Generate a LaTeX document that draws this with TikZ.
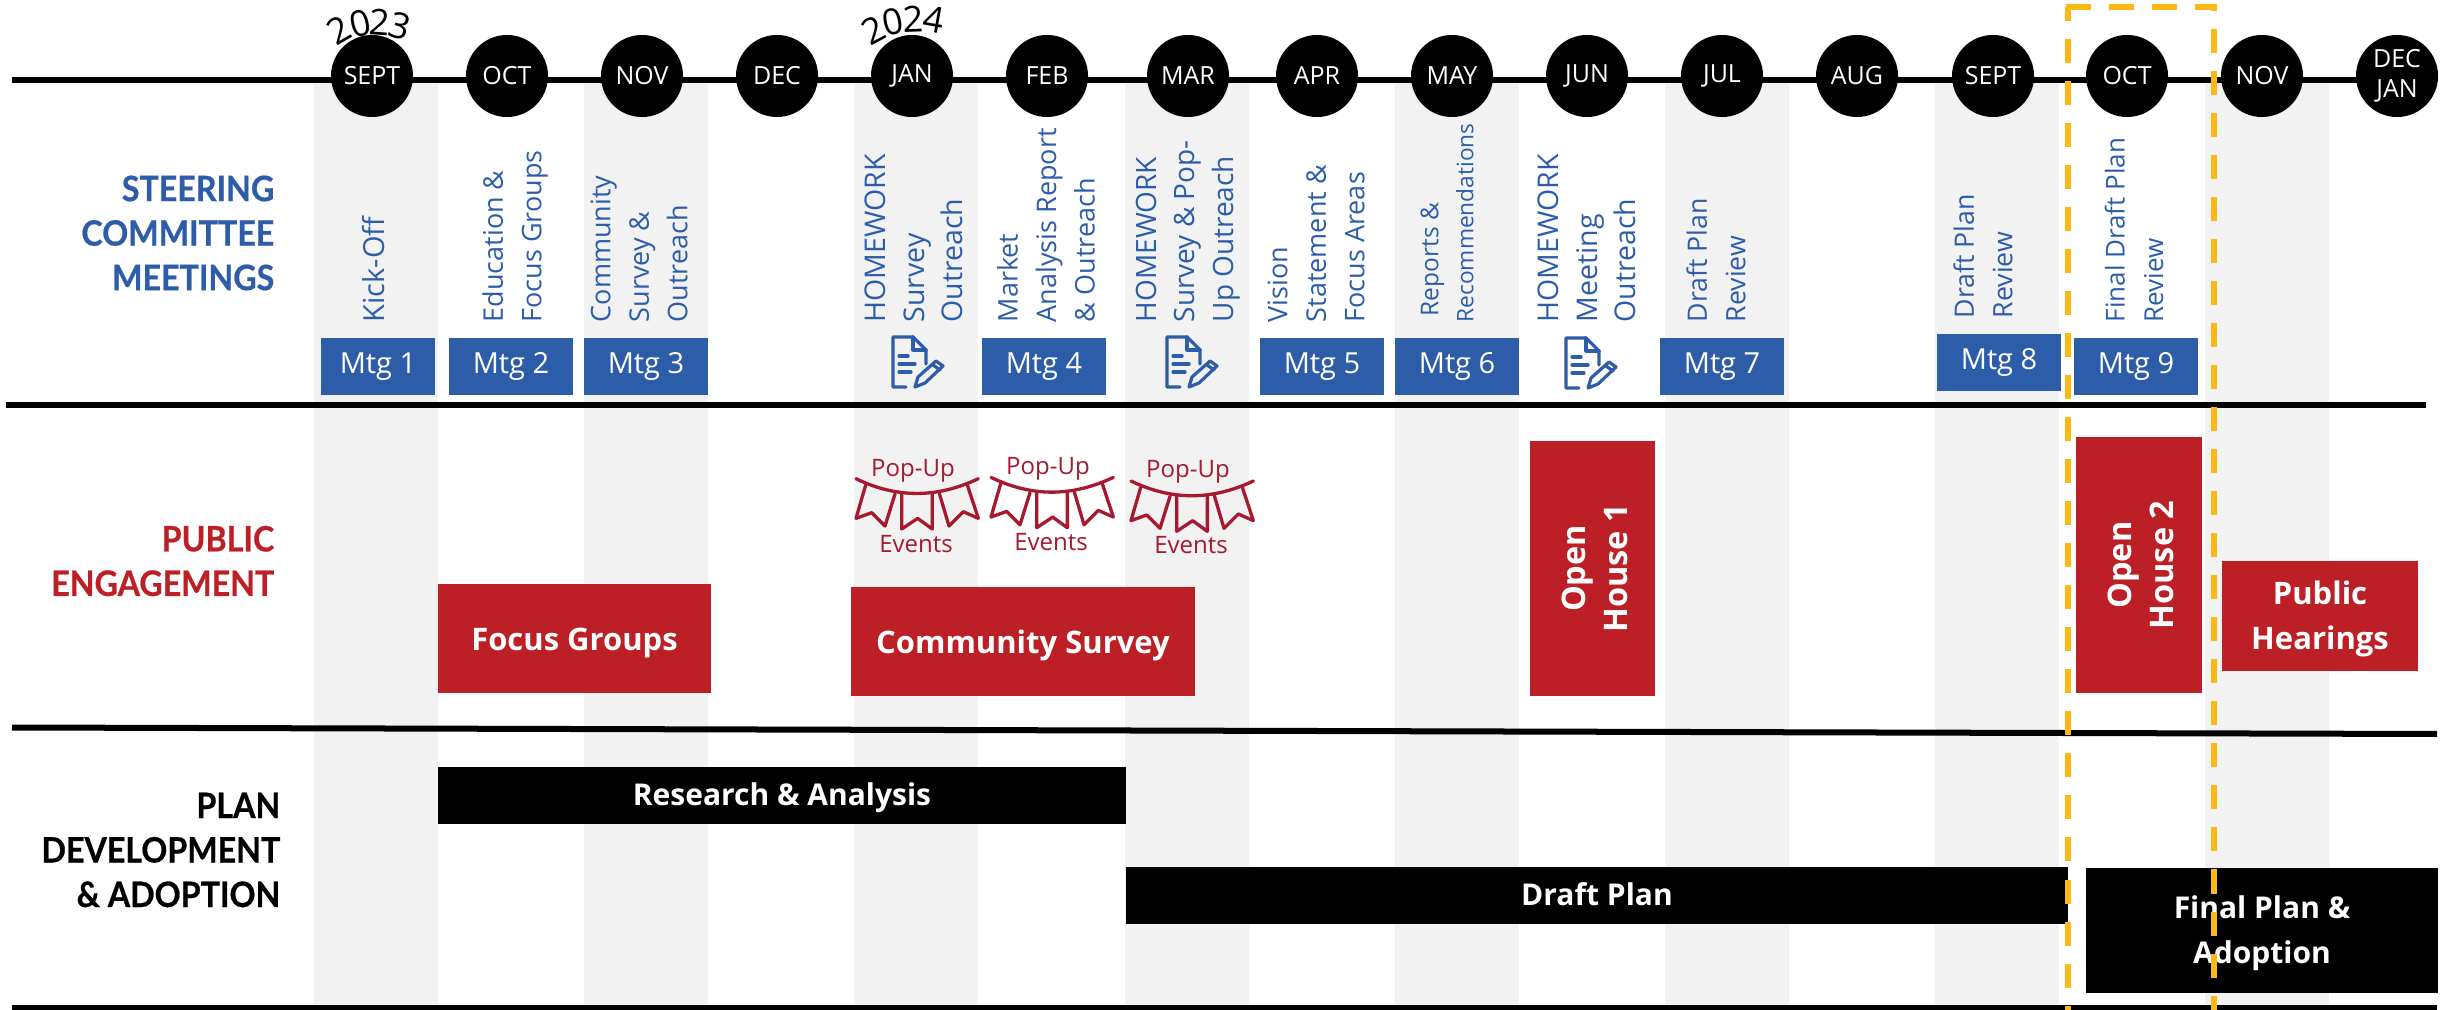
\documentclass[tikz,border=0pt]{standalone}
\usepackage{fontspec}
\setmainfont{Open Sans}
\newfontfamily\headfont[FakeStretch=0.92,BoldFeatures={FakeBold=0.6}]{Lato}
\newdimen\pxu \pxu=0.01cm
\newcommand{\fsz}[2]{\fontsize{#1\pxu}{#2\pxu}\selectfont}
\definecolor{bandgrey}{HTML}{F2F2F2}
\definecolor{steelblue}{HTML}{2D5DA9}
\definecolor{boxred}{HTML}{BC2026}
\definecolor{popred}{HTML}{A6192E}
\definecolor{amber}{HTML}{FDB913}
\tikzset{
  band/.style={fill=bandgrey,draw=none},
  rule/.style={line width=0.06cm,black},
  month/.style={circle,fill=black,text=white,minimum size=0.82cm,inner sep=0pt,font=\fsz{25}{33},align=center},
  mtg/.style={fill=steelblue,text=white,inner sep=0pt,font=\fsz{29}{33}},
  agenda/.style={rotate=90,anchor=west,inner sep=0pt,text=steelblue,align=left,font=\fsz{27}{38.5}},
  agendabig/.style={agenda,font=\fsz{28.5}{38.5}},
  agendareview/.style={agenda,font=\fsz{26.7}{38.5}},
  agendafinal/.style={agenda,font=\fsz{26}{38.5}},
  agendasmall/.style={agenda,font=\fsz{22.7}{35}},
  section/.style={anchor=east,inner sep=0pt,align=right,font=\headfont\bfseries\fsz{35}{44.5}},
  redbox/.style={fill=boxred,text=white,inner sep=0pt,align=center,font=\bfseries\fsz{31}{45}},
  redline/.style={redbox,text height=0.24cm,text depth=0pt},
  blackbox/.style={fill=black,text=white,inner sep=0pt,align=center,font=\bfseries\fsz{30}{44.5}},
  blackline/.style={blackbox,text height=0.20cm,text depth=0pt},
  boxtext/.style={inner sep=0pt,text=white,align=center,font=\bfseries\fsz{31}{45}},
  opentext/.style={boxtext,rotate=90,font=\bfseries\fsz{32.5}{42.5}},
  yeardigit/.style={inner sep=0pt,font=\fsz{36}{38}},
  poptext/.style={inner sep=0pt,text=popred,font=\fsz{24}{26}},
  amberdash/.style={draw=amber,line width=0.055cm,dash pattern=on 0.24cm off 0.18cm},
  bunting/.pic={
    \begin{scope}[scale=1/3,shift={(-108,-146)},popred,line width=0.033cm,line join=round,line cap=round]
      \draw (108,146) .. controls (230,205) and (350,205) .. (475,146);
      \draw (137,165) -- (108,265) -- (155,248) -- (195,288) -- (225,192);
      \draw (245,192) -- (245,297) -- (293,265) -- (337,297) -- (337,192);
      \draw (358,190) -- (387,288) -- (430,245) -- (475,265) -- (442,165);
    \end{scope}
  },
  homework/.pic={
    \begin{scope}[steelblue,line width=0.032cm,line join=round,line cap=round]
      \draw (9,27) -- (9,13) -- (-4,0) -- (-24,0) -- (-24,50) -- (-11,50);
      \draw (-4,0) -- (-4,13) -- (9,13);
      \draw (-18,19) -- (-9,19) (-18,27) -- (-2,27) (-18,35) -- (-6,35);
      \draw (19,24) -- (26,29) -- (8,46) -- (-2,50) -- (1,40) -- cycle;
      \draw (16,28) -- (23,33);
    \end{scope}
  }
}
\begin{document}
\begin{tikzpicture}[x=0.01cm,y=-0.01cm]
\useasboundingbox (0,0) rectangle (2446,1010);
% month bands
\foreach \a/\b in {314/438,584/708,854/978,1125/1249,1395/1519,1665/1789,1935/2059,2205/2329}
  \fill[band] (\a,82) rectangle (\b,1010);
% rules
\coordinate (tlL) at (12,80.5); \coordinate (tlR) at (2400,80.5);
\coordinate (r1L) at (6,405);  \coordinate (r1R) at (2426,405);
\coordinate (r2L) at (12,727.5); \coordinate (r2R) at (2437,734);
\coordinate (r3L) at (12,1007.5); \coordinate (r3R) at (2437,1007.5);
\draw[rule] (tlL) -- (tlR);
\draw[rule] (r1L) -- (r1R);
\draw[rule] (r2L) -- (r2R);
\draw[rule] (r3L) -- (r3R);
% months
\node[month] (m1) at (372,76) {SEPT};
\node[month] (m2) at (507,76) {OCT};
\node[month] (m3) at (642,76) {NOV};
\node[month] (m4) at (777,76) {DEC};
\node[month] (m5) at (912,76) {JAN};
\node[month] (m6) at (1047,76) {FEB};
\node[month] (m7) at (1188,76) {MAR};
\node[month] (m8) at (1317,76) {APR};
\node[month] (m9) at (1452,76) {MAY};
\node[month] (m10) at (1587,76) {JUN};
\node[month] (m11) at (1722,76) {JUL};
\node[month] (m12) at (1857,76) {AUG};
\node[month] (m13) at (1993,76) {SEPT};
\node[month] (m14) at (2127,76) {OCT};
\node[month] (m15) at (2262,76) {NOV};
\node[month] (m16) at (2397,76) {DEC\\[-1pt]JAN};
% years
\node[yeardigit,rotate=30] (ya1) at (339,30) {2};
\node[yeardigit,rotate=14] (ya2) at (360,24) {0};
\node[yeardigit,rotate=-4] (ya3) at (380,22.5) {2};
\node[yeardigit,rotate=-16] (ya4) at (400,26) {3};
\node[yeardigit,rotate=28] (yb1) at (873,30) {2};
\node[yeardigit,rotate=12] (yb2) at (893,22) {0};
\node[yeardigit,rotate=2] (yb3) at (913,19) {2};
\node[yeardigit,rotate=-10] (yb4) at (934,20) {4};
% section labels
\node[section,text=steelblue] (sc) at (275,233) {STEERING\\COMMITTEE\\MEETINGS};
\node[section,text=boxred] (pe) at (275,561) {PUBLIC\\ENGAGEMENT};
\node[section,text=black] (pd) at (281,850) {PLAN\\DEVELOPMENT\\\& ADOPTION};
% agenda text
\node[agendabig,font=\fsz{29}{38.5}] (a1) at (374,323) {Kick-Off};
\node[agenda] (a2) at (515,323) {Education \&\\Focus Groups};
\node[agenda] (a3) at (639,323) {Community\\Survey \&\\Outreach};
\node[agendabig] (a4) at (914,323) {HOMEWORK\\Survey\\Outreach};
\node[agenda] (a5) at (1046,323) {Market\\Analysis Report\\\& Outreach};
\node[agendabig,font=\fsz{28}{38.5}] (a6) at (1188,323) {HOMEWORK\\Survey \& Pop-\\Up Outreach};
\node[agenda] (a7) at (1316,323) {Vision\\Statement \&\\Focus Areas};
\node[agendasmall] (a8) at (1447,323) {\hspace*{0.06cm}\fsz{24.5}{35}Reports \&\\\fsz{22.7}{35}Recommendations};
\node[agendabig] (a9) at (1587,323) {HOMEWORK\\Meeting\\Outreach};
\node[agendareview] (a10) at (1716,323) {Draft Plan\\Review};
\node[agendareview] (a11) at (1983,319) {Draft Plan\\Review};
\node[agendafinal] (a12) at (2134,323) {Final Draft Plan\\Review};
% meeting boxes
\node[mtg,minimum width=1.14cm,minimum height=0.57cm] (g1) at (378,366.5) {Mtg 1};
\node[mtg,minimum width=1.24cm,minimum height=0.57cm] (g2) at (511,366.5) {Mtg 2};
\node[mtg,minimum width=1.24cm,minimum height=0.57cm] (g3) at (646,366.5) {Mtg 3};
\node[mtg,minimum width=1.24cm,minimum height=0.57cm] (g4) at (1044,366.5) {Mtg 4};
\node[mtg,minimum width=1.24cm,minimum height=0.57cm] (g5) at (1322,366.5) {Mtg 5};
\node[mtg,minimum width=1.24cm,minimum height=0.57cm] (g6) at (1457,366.5) {Mtg 6};
\node[mtg,minimum width=1.24cm,minimum height=0.57cm] (g7) at (1722,366.5) {Mtg 7};
\node[mtg,minimum width=1.24cm,minimum height=0.57cm] (g8) at (1999,362.5) {Mtg 8};
\node[mtg,minimum width=1.24cm,minimum height=0.57cm] (g9) at (2136,366.5) {Mtg 9};
% homework icons
\pic at (917,337) {homework};
\pic at (1191,337) {homework};
\pic at (1590,338) {homework};
% bunting
\pic at (856,478.7) {bunting};
\pic at (991,477.4) {bunting};
\pic at (1131,481) {bunting};
\node[poptext] (p1) at (913,471) {Pop-Up};
\node[poptext] (e1) at (916,544) {Events};
\node[poptext] (p2) at (1048,469) {Pop-Up};
\node[poptext] (e2) at (1051,542) {Events};
\node[poptext] (p3) at (1188,472) {Pop-Up};
\node[poptext] (e3) at (1191,545) {Events};
% red boxes
\node[redline,minimum width=2.73cm,minimum height=1.09cm] (fg) at (574.5,638.5) {Focus Groups};
\node[redline,minimum width=3.44cm,minimum height=1.09cm] (cs) at (1023,641.5) {Community Survey};
\node[redbox,minimum width=1.25cm,minimum height=2.55cm] (oh1) at (1592.5,568.5) {};
\node[opentext] (oh1t) at (1595,568.5) {Open\\House 1};
\node[redbox,minimum width=1.25cm,minimum height=2.55cm] (oh2) at (2139,565) {};
\node[opentext] (oh2t) at (2141,565) {Open\\House 2};
\node[redbox,minimum width=1.95cm,minimum height=1.10cm] (ph) at (2320,616) {};
\node[boxtext] (pht) at (2320,619) {Public\\Hearings};
% black boxes
\node[blackline,minimum width=6.88cm,minimum height=0.57cm] (ra) at (782,795.5) {Research \& Analysis};
\node[blackline,minimum width=9.42cm,minimum height=0.57cm] (dp) at (1597,895.5) {Draft Plan};
\node[blackbox,minimum width=3.52cm,minimum height=1.25cm] (fp) at (2262,930.5) {};
\node[boxtext,font=\bfseries\fsz{30}{44.5}] (fpt) at (2262,933) {Final Plan \&\\Adoption};
% dashed frame
\draw[amberdash,dash phase=0.10cm] (2068,7) -- (2068,1010);
\draw[amberdash,dash phase=0.20cm] (2214,7) -- (2214,1010);
\draw[amberdash,dash pattern=on 0.25cm off 0.18cm] (2066,7) -- (2217,7);
\end{tikzpicture}
\end{document}
